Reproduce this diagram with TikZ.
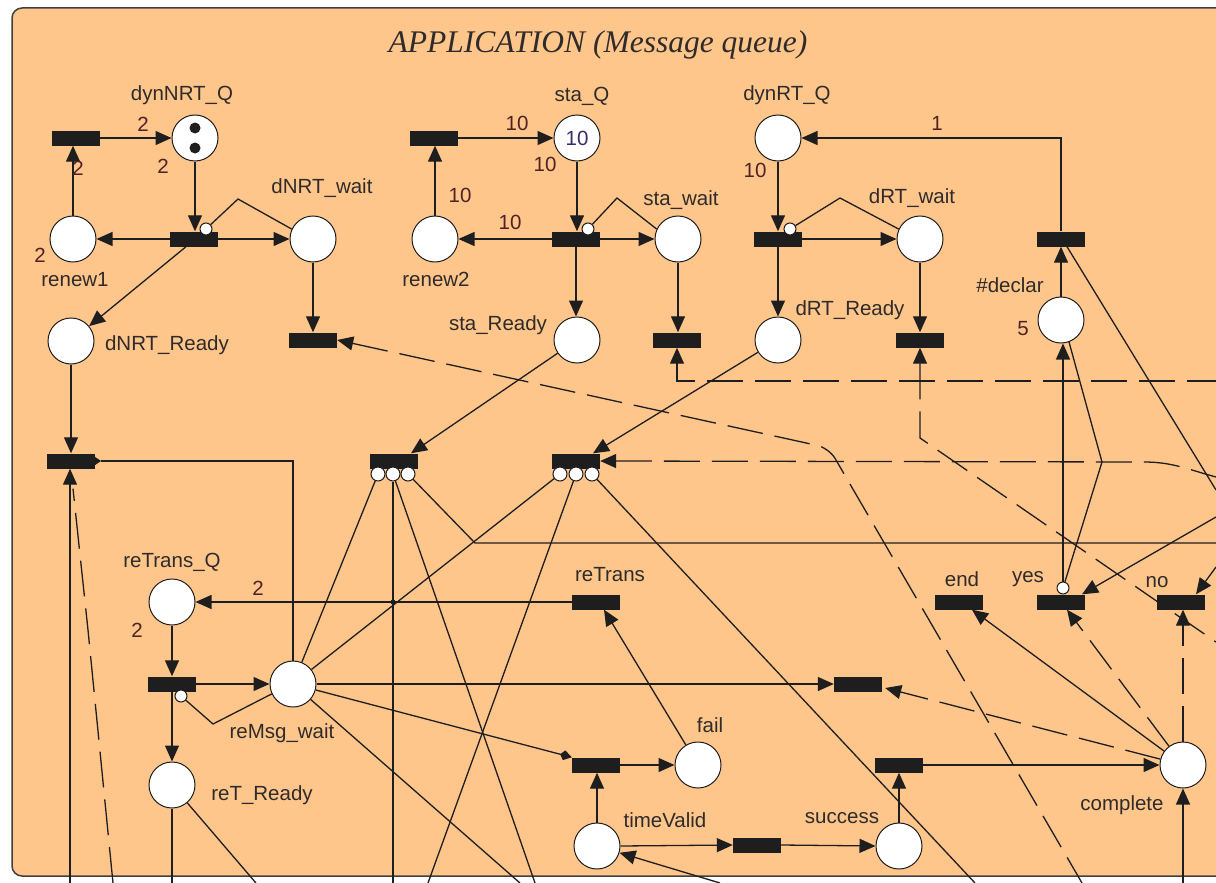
\documentclass[tikz,border=0pt]{standalone}
\usepackage{fontspec}
\setmainfont{Liberation Serif}
\setsansfont{Liberation Sans}
\usetikzlibrary{arrows.meta,calc}

\definecolor{peach}{HTML}{FFC68C}
\definecolor{ink}{HTML}{1E1E1E}
\definecolor{lblcol}{HTML}{2F2B2A}
\definecolor{wtcol}{HTML}{4E2226}
\definecolor{tokcol}{HTML}{3A2C66}

\tikzset{
  head/.tip={Triangle[length=16pt,width=14pt]},
}

\begin{document}
\begin{tikzpicture}[x=1pt,y=-1pt,
  place/.style={circle,draw=ink,line width=1pt,fill=white,minimum size=46pt,inner sep=0pt},
  trans/.style={rectangle,fill=ink,minimum width=48pt,minimum height=15pt,inner sep=0pt},
  inh/.style={circle,draw=ink,line width=1pt,fill=white,minimum size=12pt,inner sep=0pt},
  hub/.style={circle,draw=ink,line width=1pt,fill=white,minimum size=14pt,inner sep=0pt},
  lbl/.style={font=\sffamily\fontsize{20.5}{24}\selectfont,text=lblcol,inner sep=0pt},
  wt/.style={font=\sffamily\fontsize{20.5}{24}\selectfont,text=wtcol,inner sep=0pt},
  arc/.style={draw=ink,line width=1.3pt},
  to/.style={-head},
  from/.style={head-},
  dsh/.style={dash pattern=on 36pt off 12pt},
]
\useasboundingbox (0,0) rectangle (1216,883);
\clip (0,0) rectangle (1216,883);
\fill[white] (0,0) rectangle (1216,883);
\draw[fill=peach,draw=ink!85,line width=1.5pt,rounded corners=10pt] (12,8) rectangle (1240,876);

\node[font=\itshape\fontsize{31.5}{35}\selectfont,text=lblcol] (title) at (598,45) {APPLICATION (Message queue)};

% ---------- places ----------
\node[place] (dynNRTQ)  at (195,138) {};
\node[place] (renewA)   at (73,239) {};
\node[place] (dNRTwait) at (313,239) {};
\node[place] (dNRTready) at (71,341) {};
\node[place] (staQ)     at (577,138) {};
\node[place] (renewB)   at (435,239) {};
\node[place] (stawait)  at (678,239) {};
\node[place] (staready) at (577,340) {};
\node[place] (dynRTQ)   at (778,138) {};
\node[place] (dRTwait)  at (920,239) {};
\node[place] (dRTready) at (778,340) {};
\node[place] (declar)   at (1061,320) {};
\node[place] (reTransQ) at (172,602) {};
\node[place] (reMsgwait) at (293,684) {};
\node[place] (reTready) at (172,785) {};
\node[place] (fail)     at (698,765) {};
\node[place] (timeValid) at (597,846) {};
\node[place] (success)  at (899,846) {};
\node[place] (complete) at (1183,765) {};

% tokens
\fill[ink] (195,128) circle (5.5) (195,148) circle (5.5);
\node[font=\sffamily\fontsize{20.5}{24}\selectfont,text=tokcol] at (staQ) {10};

% ---------- transitions ----------
\node[trans] (tA)      at (76,138) {};
\node[trans] (tdyn)    at (194,239) {};
\node[trans] (tNRTout) at (313,340) {};
\node[trans] (tB)      at (434,138) {};
\node[trans] (tsta)    at (576,239) {};
\node[trans] (tstaout) at (677,340) {};
\node[trans] (tdRT)    at (778,239) {};
\node[trans] (tdRTout) at (920,340) {};
\node[trans] (tdecl)   at (1061,239) {};
\node[trans] (tmerge)  at (71,461) {};
\fill[ink] (90,453.5) -- (101,461) -- (90,468.5) -- cycle;
\node[trans] (tcomb1)  at (394,461) {};
\node[trans] (tcomb2)  at (576,461) {};
\node[trans] (treTrans) at (596,602) {};
\node[trans] (tretry)  at (172,684) {};
\node[trans] (tfail)   at (596,765) {};
\node[trans] (tdone)   at (858,684) {};
\node[trans] (tcheck)  at (757,845) {};
\node[trans] (tsucc)   at (899,765) {};
\node[trans] (tend)    at (959,602) {};
\node[trans] (tyes)    at (1061,602) {};
\node[trans] (tno)     at (1181,602) {};

% inhibitor ends and input hubs
\node[inh] (inhA) at (206,229) {};
\node[inh] (inhB) at (588,229) {};
\node[inh] (inhC) at (790,229) {};
\node[inh] (inhR) at (181,696) {};
\node[inh] (inhY) at (1063,588) {};
\node[hub] (hA1) at (378,474) {};
\node[hub] (hA2) at (393,474) {};
\node[hub] (hA3) at (408,474) {};
\node[hub] (hB1) at (560,474) {};
\node[hub] (hB2) at (576,474) {};
\node[hub] (hB3) at (592,474) {};

% free ends at the picture border
\coordinate (rA) at (1216,381);
\coordinate (rB) at (1216,490);
\coordinate (rC) at (1216,477);
\coordinate (rD) at (1216,543);
\coordinate (rE) at (1216,517);
\coordinate (rF) at (1216,567);
\coordinate (rG) at (1216,642);
\coordinate (bA) at (70,883);
\coordinate (bB) at (113,883);
\coordinate (bC) at (393,883);
\coordinate (bD) at (535,883);
\coordinate (bE) at (428,883);
\coordinate (bF) at (975,883);
\coordinate (bG) at (520,883);
\coordinate (bH) at (172,883);
\coordinate (bI) at (256,883);
\coordinate (bJ) at (720,883);
\coordinate (bK) at (1183,883);
\coordinate (bL) at (1082,883);

% ---------- arcs: dynamic NRT queue ----------
\draw[arc,to] (renewA.north) -- (renewA.north |- tA.south);
\draw[arc,to] (tA.east) -- (dynNRTQ.west);
\draw[arc,to] (dynNRTQ.south) -- (dynNRTQ.south |- tdyn.north);
\draw[arc,to] (tdyn.west) -- (renewA.east);
\draw[arc,to] (tdyn.east) -- (dNRTwait.west);
\draw[arc,to] ($(tdyn.south)+(-8,0)$) -- (dNRTready);
\draw[arc] (dNRTwait.155) -- (238,199) -- (inhA);
\draw[arc,to] (dNRTwait.south) -- (tNRTout.north);
\draw[arc,dsh,from,rounded corners=12pt] (tNRTout.east) -- (829,448) -- (bL);

% ---------- arcs: static queue ----------
\draw[arc,to] (renewB.north) -- (renewB.north |- tB.south);
\draw[arc,to] (tB.east) -- (staQ.west);
\draw[arc,to] (staQ.south) -- (staQ.south |- tsta.north);
\draw[arc,to] (tsta.west) -- (renewB.east);
\draw[arc,to] (tsta.east) -- (stawait.west);
\draw[arc,to] (tsta.south) -- (tsta.south |- staready.north);
\draw[arc] (stawait.155) -- (617,198) -- (inhB);
\draw[arc,to] (stawait.south) -- (stawait.south |- tstaout.north);
\draw[arc,dsh,from] (tstaout.south) |- (rA);

% ---------- arcs: dynamic RT queue ----------
\draw[arc,to] (dynRTQ.south) -- (dynRTQ.south |- tdRT.north);
\draw[arc,to] (tdRT.east) -- (dRTwait.west);
\draw[arc,to] (tdRT.south) -- (tdRT.south |- dRTready.north);
\draw[arc] (dRTwait.155) -- (840,198) -- (inhC);
\draw[arc,to] (dRTwait.south) -- (dRTwait.south |- tdRTout.north);
\draw[arc,dsh,from] (tdRTout.south) -- (920,438) -- (rG);
\draw[arc,to] (tdecl.north) |- (dynRTQ.east);
\draw[arc,to] (declar.north) -- (declar.north |- tdecl.south);
\draw[arc] (rB) -- ($(tdecl.south)+(6,0)$);
\draw[arc,to] (inhY) -- (inhY |- declar.south);
\draw[arc] (declar.-70) -- (1102,462) -- (inhY);

% ---------- arcs: merging and sending ----------
\draw[arc,to] (dNRTready.south) -- (dNRTready.south |- tmerge.north);
\draw[arc] ($(tmerge.east)+(6,0)$) -| (reMsgwait.north);
\draw[arc,to] (bA) -- (bA |- tmerge.south);
\draw[arc,dsh] (bB) -- (88,630) -- ($(tmerge.south)+(2,20)$);
\draw[arc,to] (staready) -- ($(tcomb1.north)+(17,0)$);
\draw[arc,to] (dRTready) -- ($(tcomb2.north)+(17,0)$);
\draw[arc,dsh,from] (tcomb2.east) -- (1144,462) to[out=0,in=165] (rC);
\draw[arc] (hA1) -- (reMsgwait);
\draw[arc] (hA2) -- (bC);
\draw[arc] (hA2) -- (bD);
\draw[arc] (hA3) -- (475,543) -- (rD);
\draw[arc] (hB1) -- (reMsgwait);
\draw[arc] (hB2) -- (bE);
\draw[arc] (hB3) -- (bF);

% ---------- arcs: retransmission ----------
\draw[arc,to] (reMsgwait.east) -- (reMsgwait.east -| tdone.west);
\draw[arc,-{Kite[length=12pt,width=10pt,inset=4pt]}] (reMsgwait) -- (tfail.north west);
\draw[arc] (reMsgwait) -- (bG);
\draw[arc] (reMsgwait.-155) -- (213,724) -- (inhR);
\draw[arc,to] (reTransQ.south) -- (reTransQ.south |- tretry.north);
\draw[arc,to] (tretry.east) -- (reMsgwait.west);
\draw[arc,to] (tretry.south) -- (tretry.south |- reTready.north);
\draw[arc,to] (treTrans.west) -- (reTransQ.east);
\fill[ink] (393,602) circle (2.5);
\draw[arc,to] (fail) -- ($(treTrans.south)+(8,0)$);
\draw[arc] (reTready.south) -- (bH);
\draw[arc] (reTready) -- (bI);

% ---------- arcs: completion ----------
\draw[arc,to] (timeValid.north) -- (timeValid.north |- tfail.south);
\draw[arc,to] (tfail.east) -- (fail.west);
\draw[arc,to] (timeValid.east) -- (tcheck.west);
\draw[arc,to] (tcheck.east) -- (success.west);
\draw[arc,to] (success.north) -- (success.north |- tsucc.south);
\draw[arc,to] (tsucc.east) -- (complete.west);
\draw[arc,to] (bJ) -- (timeValid);
\draw[arc,to] (bK) -- (complete.south);
\draw[arc,to] (complete) -- ($(tend.south)+(13,0)$);
\draw[arc,dsh,to] (complete) -- ($(tyes.south)+(6,0)$);
\draw[arc,dsh,to] (complete.north) -- (complete.north |- tno.south);
\draw[arc,dsh,to] (complete) -- ($(tdone.east)+(3,4)$);
\draw[arc,to] (rE) -- ($(tyes.north)+(21,0)$);
\draw[arc,to] (rF) -- ($(tno.north)+(15,0)$);

% ---------- labels ----------
\node[lbl] at (182,95) {dynNRT\_Q};
\node[lbl] at (322,188) {dNRT\_wait};
\node[lbl] at (75,280) {renew1};
\node[lbl] at (167,345) {dNRT\_Ready};
\node[lbl] at (582,96) {sta\_Q};
\node[lbl] at (681,200) {sta\_wait};
\node[lbl] at (436,279) {renew2};
\node[lbl] at (498,325) {sta\_Ready};
\node[lbl] at (787,95) {dynRT\_Q};
\node[lbl] at (912,198) {dRT\_wait};
\node[lbl] at (850,310) {dRT\_Ready};
\node[lbl] at (1010,285) {\#declar};
\node[lbl] at (172,562) {reTrans\_Q};
\node[lbl] at (610,575) {reTrans};
\node[lbl] at (282,733) {reMsg\_wait};
\node[lbl] at (262,795) {reT\_Ready};
\node[lbl] at (710,725) {fail};
\node[lbl] at (665,820) {timeValid};
\node[lbl] at (842,818) {success};
\node[lbl] at (1122,805) {complete};
\node[lbl] at (962,579) {end};
\node[lbl] at (1028,579) {yes};
\node[lbl] at (1157,582) {no};

% arc weights and initial marking
\node[wt] at (143,124) {2};
\node[wt] at (163,166) {2};
\node[wt] at (40,255) {2};
\node[wt] at (78,168) {2};
\node[wt] at (517,123) {10};
\node[wt] at (545,164) {10};
\node[wt] at (460,195) {10};
\node[wt] at (510,222) {10};
\node[wt] at (755,170) {10};
\node[wt] at (937,123) {1};
\node[wt] at (1023,329) {5};
\node[wt] at (258,588) {2};
\node[wt] at (137,630) {2};
\end{tikzpicture}
\end{document}
